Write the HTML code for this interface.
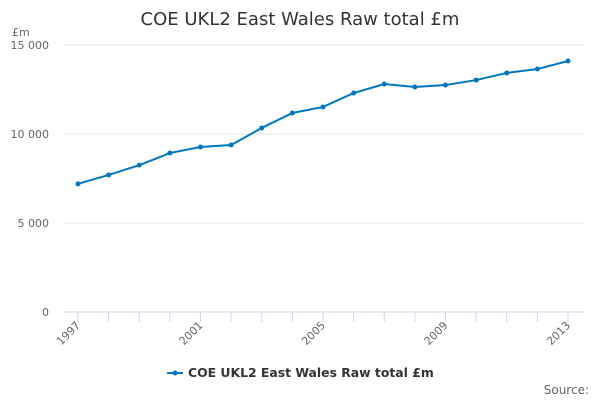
<!DOCTYPE html>
<html><head><meta charset="utf-8"><style>
body{margin:0;background:#fff;}
svg{display:block;font-family:"DejaVu Sans","Liberation Sans",sans-serif;}
</style></head><body>
<svg id="chart" width="600" height="400">
<text x="300" y="25" text-anchor="middle" font-size="18" fill="#333">COE UKL2 East Wales Raw total £m</text>
<text x="12" y="36" font-size="11" fill="#666">£m</text>
<g id="grid"></g><g id="xaxis"></g><g id="series"></g>
<g>
<line x1="167" y1="373" x2="183" y2="373" stroke="#0077c0" stroke-width="2"/>
<circle cx="175" cy="373" r="2.5" fill="#0077c0"/>
<text x="188" y="377" font-size="12.4" font-weight="bold" fill="#333">COE UKL2 East Wales Raw total £m</text>
</g>
<text x="589" y="394" text-anchor="end" font-size="12" fill="#666">Source:</text>
</svg>
<script>
const years=[1997,1998,1999,2000,2001,2002,2003,2004,2005,2006,2007,2008,2009,2010,2011,2012,2013];
const values=[7200,7700,8250,8930,9270,9380,10340,11180,11520,12300,12810,12640,12750,13030,13430,13650,14100];
const yTicks=[0,5000,10000,15000];
const yTickLabels=["0","5 000","10 000","15 000"];
const xLabelYears=[1997,2001,2005,2009,2013];
const NS="http://www.w3.org/2000/svg";
const X=y=>78+(y-1997)*(568-78)/16;
const Y=v=>312-v*(312-45)/15000;
function mk(t,a,p){const e=document.createElementNS(NS,t);for(const k in a)e.setAttribute(k,a[k]);p.appendChild(e);return e;}
const grid=document.getElementById('grid'),xa=document.getElementById('xaxis'),se=document.getElementById('series');
yTicks.forEach((v,i)=>{
 if(v>0){const l=mk('line',{x1:64,x2:584,y1:Y(v),y2:Y(v),stroke:'#e6e6e6'},grid);
 
 }
 const t=mk('text',{x:49,y:Y(v)+4,'text-anchor':'end','font-size':11,fill:'#666'},grid);t.textContent=yTickLabels[i];
 
 
});
const ax=mk('line',{x1:64,x2:584,y1:312,y2:312,stroke:'#ccd6eb'},xa);


years.forEach(y=>{const t=mk('line',{x1:X(y),x2:X(y),y1:312,y2:322,stroke:'#ccd6eb'},xa);
 
 });
xLabelYears.forEach(y=>{const t=mk('text',{x:X(y)+3,y:326,'text-anchor':'end','font-size':11,fill:'#666',transform:`rotate(-45 ${X(y)+3} 326)`},xa);t.textContent=y;
 
 });
const pl=mk('polyline',{points:years.map((y,i)=>X(y)+','+Y(values[i])).join(' '),fill:'none',stroke:'#0077c0','stroke-width':2},se);


years.forEach((y,i)=>{const c=mk('circle',{cx:X(y),cy:Y(values[i]),r:2.5,fill:'#0077c0'},se);
 
 });
</script>
</body></html>
